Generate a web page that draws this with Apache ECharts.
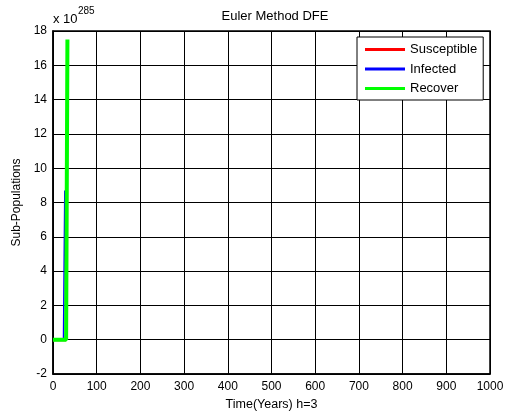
<!DOCTYPE html>
<html><head><meta charset="utf-8">
<script src="https://cdn.jsdelivr.net/npm/echarts@6/dist/echarts.min.js"></script>
<style>html,body{margin:0;padding:0;background:#fff}#c{width:509px;height:417px}</style>
</head><body><div id="c"></div>
<script>
// values in units of 1e285
const time = [0, 3, 6, 9, 12, 15, 18, 21, 24, 27, 30, 33];
const susceptible = [0, 0, 0, 0, 0, 0, 0, 0, 0, 0, 0];
const infected = [0, 0, 0, 0, 0, 0, 0, 0, 0, 8.7];
const recover = [0, 0, 0, 0, 0, 0, 0, 0, 0, 0, 0, 17.5];
const xTicks = [0, 100, 200, 300, 400, 500, 600, 700, 800, 900, 1000];
const yTicks = [-2, 0, 2, 4, 6, 8, 10, 12, 14, 16, 18];

const pairs = arr => arr.map((v, i) => [time[i], v]);
const font = 'Liberation Sans, Arial, sans-serif';
const chart = echarts.init(document.getElementById('c'));
chart.setOption({
  animation: false,
  backgroundColor: '#fff',
  title: { text: 'Euler Method DFE', left: 270, top: 5, textAlign: 'center',
    textStyle: { fontFamily: font, fontSize: 13, fontWeight: 'normal', color: '#000' } },
  grid: { left: 53, right: 19, top: 31, bottom: 43, show: true, borderColor: '#000', borderWidth: 1.5 },
  legend: {
    orient: 'vertical', left: 357, top: 37, padding: [6, 6, 5, 8], itemGap: 6.5,
    backgroundColor: '#fff', borderColor: '#000', borderWidth: 1,
    icon: 'rect', itemWidth: 40, itemHeight: 3,
    textStyle: { fontFamily: font, fontSize: 13, color: '#000' },
    data: ['Susceptible', 'Infected', 'Recover']
  },
  xAxis: {
    type: 'value', min: 0, max: 1000, interval: 100,
    name: 'Time(Years) h=3', nameLocation: 'middle', nameGap: 24,
    nameTextStyle: { fontFamily: font, fontSize: 12.5, color: '#000' },
    axisLine: { onZero: false, lineStyle: { color: '#000', width: 1.5 } },
    axisTick: { inside: true, length: 5, lineStyle: { color: '#000' } },
    axisLabel: { fontFamily: font, fontSize: 12, color: '#000', margin: 7,
      customValues: xTicks, formatter: v => String(v) },
    splitLine: { show: true, lineStyle: { color: '#000', width: 1 } }
  },
  yAxis: {
    type: 'value', min: -2, max: 18, interval: 2,
    name: 'Sub-Populations', nameLocation: 'middle', nameGap: 28,
    nameTextStyle: { fontFamily: font, fontSize: 12, color: '#000' },
    axisLine: { show: true, onZero: false, lineStyle: { color: '#000', width: 1.5 } },
    axisTick: { show: true, inside: true, length: 5, lineStyle: { color: '#000' } },
    axisLabel: { fontFamily: font, fontSize: 12, color: '#000', margin: 6,
      customValues: yTicks, formatter: v => String(v) },
    splitLine: { show: true, lineStyle: { color: '#000', width: 1 } }
  },
  graphic: [
    { type: 'text', left: 53, top: 13, style: { text: 'x 10', fontFamily: font, fontSize: 13, fill: '#000' } },
    { type: 'text', left: 78, top: 6, style: { text: '285', fontFamily: font, fontSize: 10, fill: '#000' } }
  ],
  series: [
    { name: 'Susceptible', type: 'line', data: pairs(susceptible), showSymbol: false,
      lineStyle: { color: '#ff0000', width: 3 }, itemStyle: { color: '#ff0000' } },
    { name: 'Infected', type: 'line', data: pairs(infected), showSymbol: false,
      lineStyle: { color: '#0000ff', width: 1.5 }, itemStyle: { color: '#0000ff' } },
    { name: 'Recover', type: 'line', data: pairs(recover), showSymbol: false,
      lineStyle: { color: '#00ff00', width: 4 }, itemStyle: { color: '#00ff00' } }
  ]
});
</script></body></html>
